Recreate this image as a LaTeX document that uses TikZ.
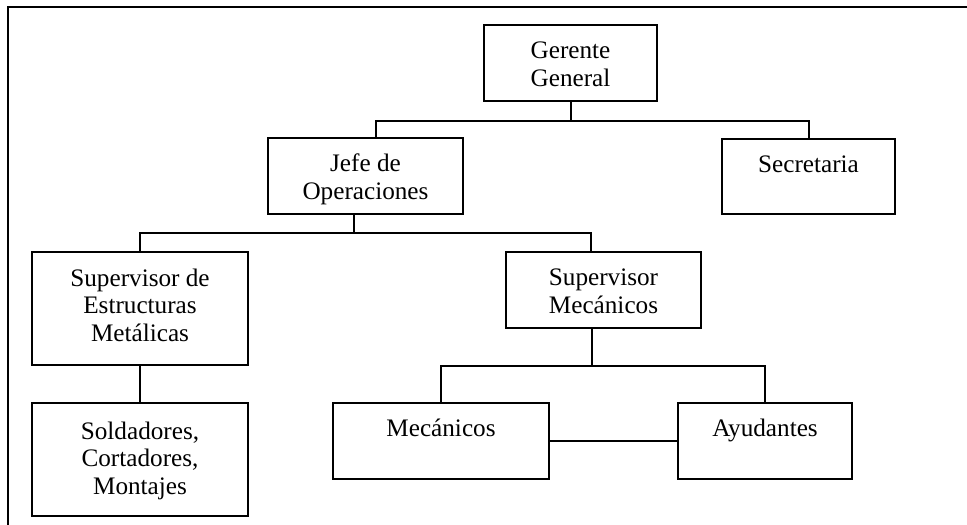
\documentclass[tikz,border=0pt]{standalone}
\usepackage{fontspec}
\setmainfont{Liberation Serif}
\usetikzlibrary{calc}
\begin{document}
\begin{tikzpicture}[x=1pt,y=-1pt,
  box/.style={draw, line width=2pt, rectangle, inner sep=0pt, anchor=north west},
  txt/.style={anchor=base, align=center, inner sep=0pt, font=\fontsize{25.2}{27.5}\selectfont},
  conn/.style={line width=2pt}]
\useasboundingbox (0,0) rectangle (967,525);
\draw[line width=2pt] (967,7) -- (8,7) -- (8,525);
% boxes
\node[box, minimum width=173pt, minimum height=76pt] (g) at (483,24) {};
\node[box, minimum width=195pt, minimum height=76pt] (j) at (267,137) {};
\node[box, minimum width=173pt, minimum height=75pt] (s) at (721,138) {};
\node[box, minimum width=216pt, minimum height=113pt] (se) at (31,251) {};
\node[box, minimum width=195pt, minimum height=76pt] (sm) at (505,251) {};
\node[box, minimum width=216pt, minimum height=113pt] (sd) at (31,402) {};
\node[box, minimum width=216pt, minimum height=76pt] (m) at (332,402) {};
\node[box, minimum width=174pt, minimum height=76pt] (a) at (677,402) {};
% texts (anchor base = baseline of the last line)
\node[txt] (tg) at ($(g.north)+(0,62)$) {Gerente\\General};
\node[txt] (tj) at ($(j.north)+(0,62)$) {Jefe de\\Operaciones};
\node[txt] (ts) at ($(s.north)+(0,34)$) {Secretaria};
\node[txt] (tse) at ($(se.north)+(0,90)$) {Supervisor de\\Estructuras\\Metálicas};
\node[txt] (tsm) at ($(sm.north)+(0,62)$) {Supervisor\\Mecánicos};
\node[txt] (tsd) at ($(sd.north)+(0,92)$) {Soldadores,\\Cortadores,\\Montajes};
\node[txt] (tm) at ($(m.north)+(0,34)$) {Mecánicos};
\node[txt] (ta) at ($(a.north)+(0,34)$) {Ayudantes};
% connectors
\draw[conn] (g.south) -- ++(0,19) coordinate (gb);
\draw[conn] ($(j.north west)+(109,0)$) |- (gb) -| (s.north);
\draw[conn] ($(j.south west)+(87,0)$) -- ++(0,18) coordinate (jb);
\draw[conn] (se.north) |- (jb) -| ($(sm.north west)+(86,0)$);
\draw[conn] (se.south) -- (sd.north);
\draw[conn] ($(sm.south west)+(87,0)$) -- ++(0,37) coordinate (smb);
\draw[conn] ($(m.north west)+(109,0)$) |- (smb) -| (a.north);
\draw[conn] (m.east) -- (a.west);
\end{tikzpicture}
\end{document}
